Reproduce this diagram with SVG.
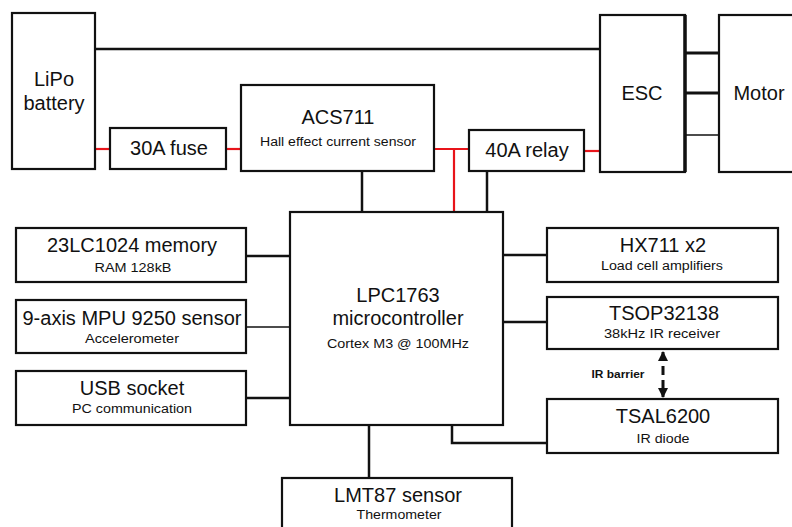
<svg xmlns="http://www.w3.org/2000/svg" width="792" height="527" viewBox="0 0 792 527">
<style>
.box{fill:#fff;stroke:#111;stroke-width:2.2}
.t{font-family:"Liberation Sans",Arial,sans-serif;font-size:20px;fill:#111;text-anchor:middle}
.s{font-family:"Liberation Sans",Arial,sans-serif;font-size:12.5px;fill:#111;text-anchor:middle}
.w{fill:none;stroke:#111;stroke-width:2.5}
.r{fill:none;stroke:#e8141a;stroke-width:2.2}
</style>
<defs>
<marker id="ah" viewBox="0 0 10 10" refX="9" refY="5" markerWidth="3.4" markerHeight="3.4" orient="auto-start-reverse">
<path d="M0,0 L10,5 L0,10 Z" fill="#111"/>
</marker>
</defs>
<rect width="792" height="527" fill="#fff"/>
<g id="connectors">
<path class="w" d="M95,49 H600"/>
<path class="r" d="M95,149 H110"/>
<path class="r" d="M226,149 H241"/>
<path class="r" d="M434,149 H469"/>
<path class="r" d="M454,149 V212"/>
<path class="r" d="M584,151 H600"/>
<path class="w" d="M362,171 V212"/>
<path class="w" d="M487,171 V212"/>
<path class="w" style="stroke-width:3" d="M685,53 H719"/>
<path class="w" style="stroke-width:3" d="M685,93 H719"/>
<path class="w" style="stroke-width:1.6" d="M685,135 H719"/>
<path class="w" d="M246,256 H290"/>
<path class="w" style="stroke-width:1.6" d="M246,327 H290"/>
<path class="w" d="M246,398 H290"/>
<path class="w" d="M503,255 H547"/>
<path class="w" d="M503,322 H547"/>
<path class="w" d="M452,425 V443 H547"/>
<path class="w" d="M369,425 V478"/>
<path fill="none" stroke="#111" stroke-width="3" stroke-dasharray="9,5" d="M663,352 V397" marker-start="url(#ah)" marker-end="url(#ah)"/>
<text x="618" y="378" font-family="'Liberation Sans',Arial,sans-serif" font-size="10" font-weight="bold" fill="#111" text-anchor="middle" textLength="53" lengthAdjust="spacingAndGlyphs">IR barrier</text>
</g>
<g id="lipo"><rect class="box" x="12" y="13" width="83" height="156"/>
<text class="t" x="54" y="86">LiPo</text><text class="t" x="54" y="110">battery</text></g>
<g id="fuse"><rect class="box" x="110" y="128" width="116" height="41"/>
<text class="t" x="169" y="155">30A fuse</text></g>
<g id="acs711"><rect class="box" x="241" y="85" width="193" height="86"/>
<text class="t" x="338" y="124">ACS711</text>
<text class="s" x="338" y="146" textLength="156" lengthAdjust="spacingAndGlyphs">Hall effect current sensor</text></g>
<g id="relay"><rect class="box" x="469" y="130" width="115" height="41"/>
<text class="t" x="527" y="157">40A relay</text></g>
<g id="esc"><rect class="box" x="600" y="15" width="85" height="157"/>
<path d="M685,15 V172" stroke="#111" stroke-width="3.5"/>
<text class="t" x="642" y="100">ESC</text></g>
<g id="motor"><rect class="box" x="719" y="15" width="90" height="157"/>
<text class="t" x="759" y="100">Motor</text></g>
<g id="mcu"><rect class="box" x="290" y="212" width="213" height="213"/>
<text class="t" x="398" y="302">LPC1763</text>
<text class="t" x="398" y="325">microcontroller</text>
<text class="s" x="398" y="348" textLength="142" lengthAdjust="spacingAndGlyphs">Cortex M3 @ 100MHz</text></g>
<g id="memory"><rect class="box" x="16" y="228" width="230" height="54"/>
<text class="t" x="132" y="252">23LC1024 memory</text>
<text class="s" x="133" y="272" textLength="77" lengthAdjust="spacingAndGlyphs">RAM 128kB</text></g>
<g id="mpu"><rect class="box" x="16" y="300" width="230" height="53"/>
<text class="t" x="132" y="325">9-axis MPU 9250 sensor</text>
<text class="s" x="132" y="343" textLength="94" lengthAdjust="spacingAndGlyphs">Accelerometer</text></g>
<g id="usb"><rect class="box" x="16" y="371" width="230" height="54"/>
<text class="t" x="132" y="395">USB socket</text>
<text class="s" x="132" y="413" textLength="120" lengthAdjust="spacingAndGlyphs">PC communication</text></g>
<g id="hx711"><rect class="box" x="547" y="228" width="231" height="54"/>
<text class="t" x="663" y="252">HX711 x2</text>
<text class="s" x="662" y="270" textLength="122" lengthAdjust="spacingAndGlyphs">Load cell amplifiers</text></g>
<g id="tsop"><rect class="box" x="547" y="297" width="231" height="52"/>
<text class="t" x="664" y="320">TSOP32138</text>
<text class="s" x="662" y="338" textLength="116" lengthAdjust="spacingAndGlyphs">38kHz IR receiver</text></g>
<g id="tsal"><rect class="box" x="547" y="399" width="231" height="54"/>
<text class="t" x="663" y="423">TSAL6200</text>
<text class="s" x="663" y="443" textLength="53" lengthAdjust="spacingAndGlyphs">IR diode</text></g>
<g id="lmt87"><rect class="box" x="282" y="478" width="230" height="60"/>
<text class="t" x="398" y="502">LMT87 sensor</text>
<text class="s" x="399" y="519" textLength="85" lengthAdjust="spacingAndGlyphs">Thermometer</text></g>
</svg>
